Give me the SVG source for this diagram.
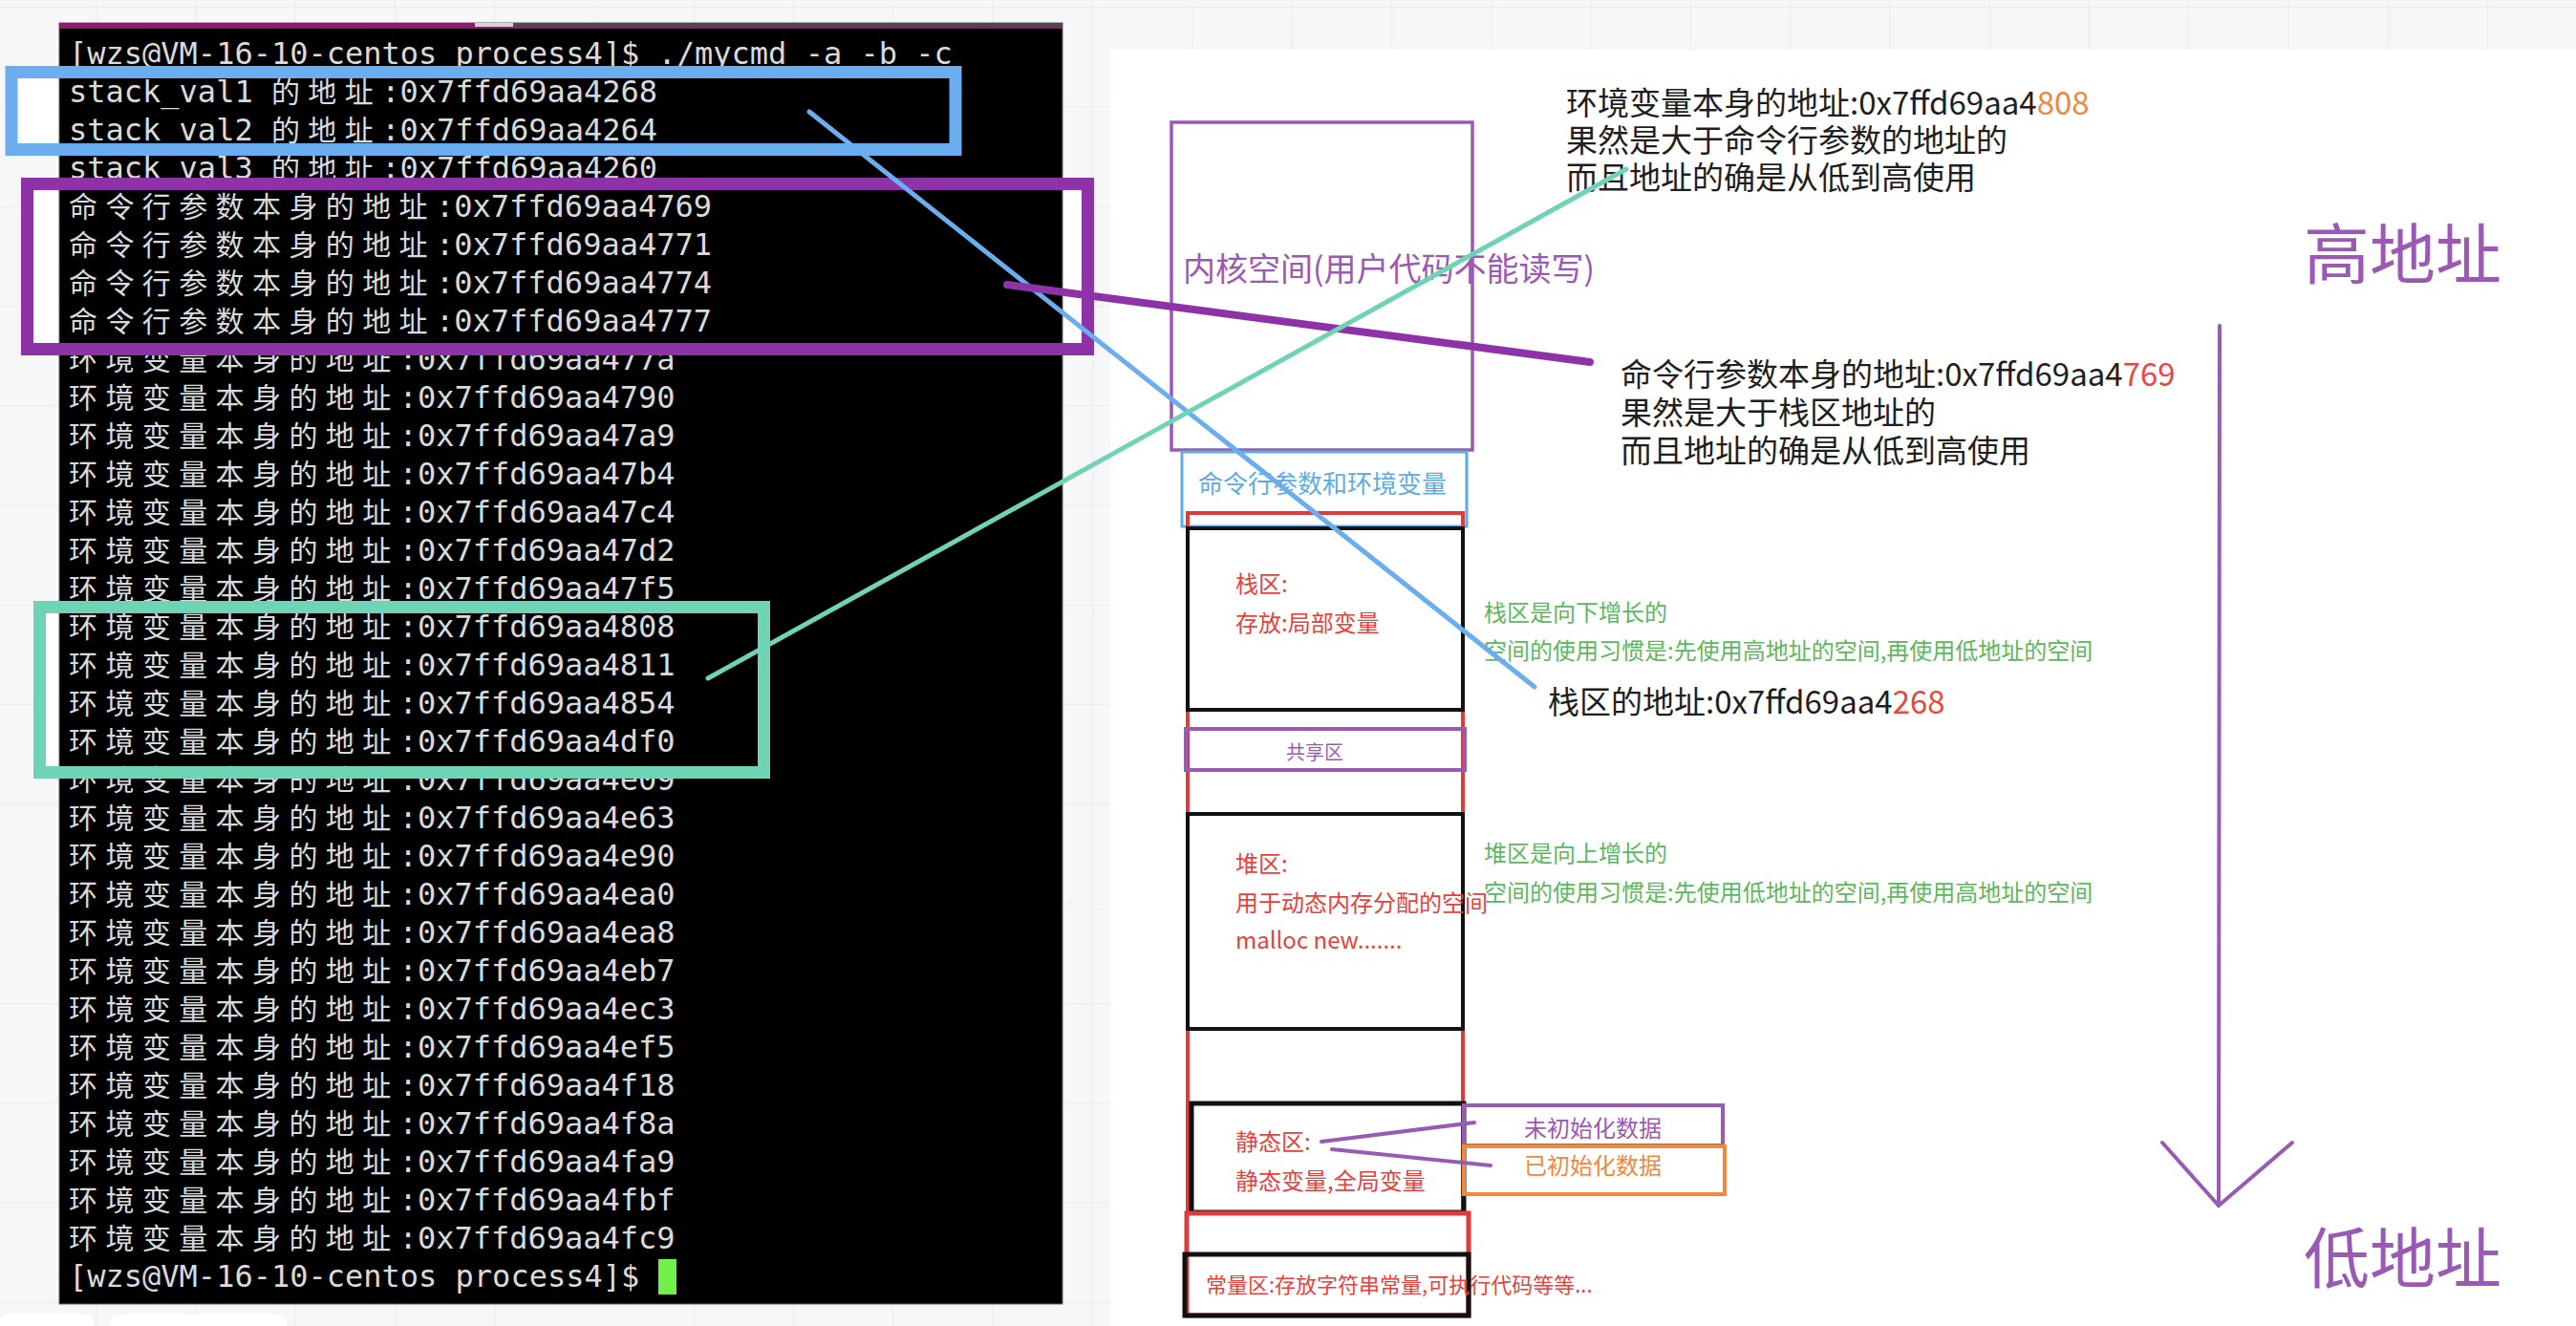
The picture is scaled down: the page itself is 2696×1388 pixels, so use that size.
<svg xmlns="http://www.w3.org/2000/svg" width="2696" height="1388" viewBox="0 0 2696 1388">
<style>
.term{font-family:"DejaVu Sans Mono","Liberation Mono",monospace;font-size:32px;fill:#dadada}
.tcj{font-family:"Noto Sans CJK SC",sans-serif;font-size:30px;letter-spacing:8.4px}
.ann{font-family:"Noto Sans CJK SC",sans-serif;font-size:33px;fill:#1e1e1e}
.cn{font-family:"Noto Sans CJK SC",sans-serif}
.red{fill:#e8413c}
.grn{font-family:"Noto Sans CJK SC",sans-serif;font-size:24px;fill:#5cb85c}
.pur{fill:#9b59b6}
.box{fill:none}
</style>
<defs>
<pattern id="grid" patternUnits="userSpaceOnUse" x="-4.3" y="7" width="104.3" height="104.3">
<rect width="104.3" height="104.3" fill="#f6f7f9"/>
<path d="M0 0V104.3M0 0H104.3" stroke="#e9ebee" stroke-width="2" fill="none"/>
</pattern>
</defs>
<rect width="2696" height="1388" fill="url(#grid)"/>
<rect x="1162" y="52" width="1534" height="1336" fill="#ffffff"/>
<rect x="0" y="1376" width="98" height="20" rx="8" fill="#ffffff"/>
<rect x="115" y="1376" width="185" height="20" rx="8" fill="#ffffff"/>

<!-- white interiors of highlight boxes -->
<rect x="14" y="80" width="986" height="73" fill="#ffffff"/>
<rect x="33" y="197" width="1100" height="164" fill="#ffffff"/>
<rect x="46" y="640" width="750" height="164" fill="#ffffff"/>

<g id="terminal">
<rect x="62" y="24" width="1050" height="1341" fill="#000000" stroke="#666" stroke-width="1"/>
<rect x="62" y="24" width="1050" height="6" fill="#8c1d6d"/>
<rect x="537" y="24" width="575" height="4" fill="#4a4a4a"/>
<rect x="497" y="24" width="40" height="4" fill="#d4d4d4"/>
<text class="term" x="72" y="67">[wzs@VM-16-10-centos process4]$ ./mycmd -a -b -c</text>
<text class="term" x="72" y="107">stack_val1 <tspan class="tcj">的地址</tspan>:0x7ffd69aa4268</text>
<text class="term" x="72" y="147">stack_val2 <tspan class="tcj">的地址</tspan>:0x7ffd69aa4264</text>
<text class="term" x="72" y="187">stack_val3 <tspan class="tcj">的地址</tspan>:0x7ffd69aa4260</text>
<text class="term" x="72" y="227"><tspan class="tcj">命令行参数本身的地址</tspan>:0x7ffd69aa4769</text>
<text class="term" x="72" y="267"><tspan class="tcj">命令行参数本身的地址</tspan>:0x7ffd69aa4771</text>
<text class="term" x="72" y="307"><tspan class="tcj">命令行参数本身的地址</tspan>:0x7ffd69aa4774</text>
<text class="term" x="72" y="347"><tspan class="tcj">命令行参数本身的地址</tspan>:0x7ffd69aa4777</text>
<text class="term" x="72" y="387"><tspan class="tcj">环境变量本身的地址</tspan>:0x7ffd69aa477a</text>
<text class="term" x="72" y="427"><tspan class="tcj">环境变量本身的地址</tspan>:0x7ffd69aa4790</text>
<text class="term" x="72" y="467"><tspan class="tcj">环境变量本身的地址</tspan>:0x7ffd69aa47a9</text>
<text class="term" x="72" y="507"><tspan class="tcj">环境变量本身的地址</tspan>:0x7ffd69aa47b4</text>
<text class="term" x="72" y="547"><tspan class="tcj">环境变量本身的地址</tspan>:0x7ffd69aa47c4</text>
<text class="term" x="72" y="587"><tspan class="tcj">环境变量本身的地址</tspan>:0x7ffd69aa47d2</text>
<text class="term" x="72" y="627"><tspan class="tcj">环境变量本身的地址</tspan>:0x7ffd69aa47f5</text>
<text class="term" x="72" y="667"><tspan class="tcj">环境变量本身的地址</tspan>:0x7ffd69aa4808</text>
<text class="term" x="72" y="707"><tspan class="tcj">环境变量本身的地址</tspan>:0x7ffd69aa4811</text>
<text class="term" x="72" y="747"><tspan class="tcj">环境变量本身的地址</tspan>:0x7ffd69aa4854</text>
<text class="term" x="72" y="787"><tspan class="tcj">环境变量本身的地址</tspan>:0x7ffd69aa4df0</text>
<text class="term" x="72" y="827"><tspan class="tcj">环境变量本身的地址</tspan>:0x7ffd69aa4e09</text>
<text class="term" x="72" y="867"><tspan class="tcj">环境变量本身的地址</tspan>:0x7ffd69aa4e63</text>
<text class="term" x="72" y="907"><tspan class="tcj">环境变量本身的地址</tspan>:0x7ffd69aa4e90</text>
<text class="term" x="72" y="947"><tspan class="tcj">环境变量本身的地址</tspan>:0x7ffd69aa4ea0</text>
<text class="term" x="72" y="987"><tspan class="tcj">环境变量本身的地址</tspan>:0x7ffd69aa4ea8</text>
<text class="term" x="72" y="1027"><tspan class="tcj">环境变量本身的地址</tspan>:0x7ffd69aa4eb7</text>
<text class="term" x="72" y="1067"><tspan class="tcj">环境变量本身的地址</tspan>:0x7ffd69aa4ec3</text>
<text class="term" x="72" y="1107"><tspan class="tcj">环境变量本身的地址</tspan>:0x7ffd69aa4ef5</text>
<text class="term" x="72" y="1147"><tspan class="tcj">环境变量本身的地址</tspan>:0x7ffd69aa4f18</text>
<text class="term" x="72" y="1187"><tspan class="tcj">环境变量本身的地址</tspan>:0x7ffd69aa4f8a</text>
<text class="term" x="72" y="1227"><tspan class="tcj">环境变量本身的地址</tspan>:0x7ffd69aa4fa9</text>
<text class="term" x="72" y="1267"><tspan class="tcj">环境变量本身的地址</tspan>:0x7ffd69aa4fbf</text>
<text class="term" x="72" y="1307"><tspan class="tcj">环境变量本身的地址</tspan>:0x7ffd69aa4fc9</text>
<text class="term" x="72" y="1347">[wzs@VM-16-10-centos process4]$ </text>
<rect x="689" y="1318" width="19" height="37" fill="#72f04a"/>
</g>

<g id="highlight-stack"><rect class="box" x="12" y="75.5" width="988" height="81" stroke="#6aaef0" stroke-width="13"/></g>
<g id="highlight-args"><rect class="box" x="28.5" y="192.5" width="1110" height="173" stroke="#8e33a7" stroke-width="13"/></g>
<g id="highlight-env"><rect class="box" x="41.5" y="635.5" width="758" height="173" stroke="#6fd3b5" stroke-width="13"/></g>

<g id="kernel">
<rect class="box" x="1226" y="128" width="315" height="343" stroke="#9b59b6" stroke-width="3.5"/>
<text class="cn pur" x="1238" y="294" font-size="34">内核空间(用户代码不能读写)</text>
</g>
<g id="args-env">
<rect class="box" x="1237" y="473" width="298" height="78" stroke="#5dade2" stroke-width="3"/>
<text class="cn" x="1254" y="516" font-size="26" fill="#5dade2">命令行参数和环境变量</text>
</g>
<g id="user-space"><rect class="box" x="1243" y="537" width="288" height="732" stroke="#e03a3a" stroke-width="4"/></g>
<g id="stack">
<rect class="box" x="1243" y="553" width="288" height="190" stroke="#111" stroke-width="4"/>
<text class="cn red" x="1293" y="620" font-size="24">栈区:</text>
<text class="cn red" x="1293" y="661" font-size="24">存放:局部变量</text>
</g>
<g id="shared">
<rect class="box" x="1241" y="763" width="292" height="43" stroke="#9b59b6" stroke-width="4"/>
<text class="cn pur" x="1376" y="795" font-size="20" text-anchor="middle">共享区</text>
</g>
<g id="heap">
<rect class="box" x="1243" y="852" width="288" height="225" stroke="#111" stroke-width="4"/>
<text class="cn red" x="1293" y="913" font-size="24">堆区:</text>
<text class="cn red" x="1293" y="954" font-size="24">用于动态内存分配的空间</text>
<text class="cn red" x="1293" y="993" font-size="24">malloc new.......</text>
</g>
<g id="static">
<rect class="box" x="1247" y="1155" width="285" height="114" stroke="#111" stroke-width="5"/>
<text class="cn red" x="1293" y="1204" font-size="24">静态区:</text>
<text class="cn red" x="1293" y="1245" font-size="24">静态变量,全局变量</text>
</g>
<g id="uninit">
<rect class="box" x="1532" y="1157" width="271" height="42" stroke="#9b59b6" stroke-width="4"/>
<text class="cn pur" x="1595" y="1190" font-size="24">未初始化数据</text>
</g>
<g id="init">
<rect class="box" x="1532" y="1200" width="273" height="50" stroke="#f0883e" stroke-width="4"/>
<text class="cn" x="1595" y="1229" font-size="24" fill="#f0883e">已初始化数据</text>
</g>
<g id="const">
<rect class="box" x="1242" y="1270" width="295" height="107" stroke="#e03a3a" stroke-width="5"/>
<rect class="box" x="1240" y="1313" width="297" height="64" stroke="#111" stroke-width="5"/>
<text class="cn red" x="1262" y="1353" font-size="22">常量区:存放字符串常量,可执行代码等等...</text>
</g>

<g id="note-env">
<text class="ann" x="1639" y="120">环境变量本身的地址:0x7ffd69aa4<tspan fill="#f0883e">808</tspan></text>
<text class="ann" x="1639" y="159">果然是大于命令行参数的地址的</text>
<text class="ann" x="1639" y="198">而且地址的确是从低到高使用</text>
</g>
<g id="note-args">
<text class="ann" x="1696" y="404">命令行参数本身的地址:0x7ffd69aa4<tspan fill="#e8473f">769</tspan></text>
<text class="ann" x="1696" y="444">果然是大于栈区地址的</text>
<text class="ann" x="1696" y="484">而且地址的确是从低到高使用</text>
</g>
<g id="note-stack-grow">
<text class="grn" x="1553" y="650">栈区是向下增长的</text>
<text class="grn" x="1553" y="690">空间的使用习惯是:先使用高地址的空间,再使用低地址的空间</text>
</g>
<g id="note-stack-addr">
<text class="ann" x="1620" y="747">栈区的地址:0x7ffd69aa4<tspan fill="#e8473f">268</tspan></text>
</g>
<g id="note-heap-grow">
<text class="grn" x="1553" y="902">堆区是向上增长的</text>
<text class="grn" x="1553" y="943">空间的使用习惯是:先使用低地址的空间,再使用高地址的空间</text>
</g>
<g id="high-addr"><text class="cn pur" x="2411" y="292" font-size="69">高地址</text></g>
<g id="low-addr"><text class="cn pur" x="2411" y="1343" font-size="69">低地址</text></g>

<g id="connectors" fill="none" stroke-linecap="round">
<line x1="847" y1="117" x2="1606" y2="719" stroke="#6aaef0" stroke-width="5"/>
<line x1="1054" y1="298" x2="1664" y2="379" stroke="#8e33a7" stroke-width="8"/>
<line x1="741" y1="710" x2="1702" y2="177" stroke="#6fd3b5" stroke-width="5"/>
<line x1="1383" y1="1195" x2="1543" y2="1175" stroke="#9b59b6" stroke-width="4"/>
<line x1="1394" y1="1203" x2="1560" y2="1220" stroke="#9b59b6" stroke-width="4"/>
<path d="M2323 341L2322 1262M2263 1196L2322 1262L2399 1196" stroke="#9b59b6" stroke-width="4"/>
</g>
</svg>
